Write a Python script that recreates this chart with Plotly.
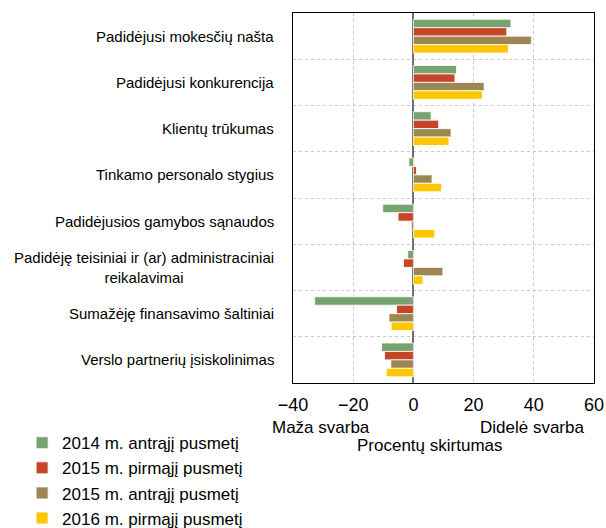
import plotly.graph_objects as go

categories = [
    "Padidėjusi mokesčių našta",
    "Padidėjusi konkurencija",
    "Klientų trūkumas",
    "Tinkamo personalo stygius",
    "Padidėjusios gamybos sąnaudos",
    "Padidėję teisiniai ir (ar) administraciniai<br>reikalavimai",
    "Sumažėję finansavimo šaltiniai",
    "Verslo partnerių įsiskolinimas",
]
series_names = [
    "2014 m. antrąjį pusmetį",
    "2015 m. pirmąjį pusmetį",
    "2015 m. antrąjį pusmetį",
    "2016 m. pirmąjį pusmetį",
]
s2014_h2 = [32.4, 14.3, 5.9, -1.5, -10.2, -1.9, -32.8, -10.6]
s2015_h1 = [31.0, 13.8, 8.4, 1.0, -5.1, -3.3, -5.6, -9.6]
s2015_h2 = [39.2, 23.5, 12.5, 6.2, -0.7, 9.8, -8.1, -7.5]
s2016_h1 = [31.6, 22.9, 11.8, 9.4, 7.1, 3.2, -7.4, -9.0]
series_values = [s2014_h2, s2015_h1, s2015_h2, s2016_h1]
colors = ["#76A36F", "#C64527", "#9C8752", "#FFC700"]
x_ticks = [-40, -20, 0, 20, 40, 60]

FONT = "Liberation Sans, Arial, sans-serif"

fig = go.Figure()
for name, vals, col in zip(series_names, series_values, colors):
    fig.add_trace(go.Bar(
        y=categories, x=vals, name=name, orientation="h",
        marker=dict(color=col, line=dict(color="rgba(255,255,255,0.8)", width=1)),
    ))

for cat in categories:
    fig.add_annotation(
        x=-0.055, xref="paper", y=cat, yref="y", text=cat,
        showarrow=False, xanchor="right", yanchor="middle", align="center",
        font=dict(family=FONT, size=15, color="black"),
    )

fig.add_annotation(x=-0.076, xref="paper", y=-0.119, yref="paper", text="Maža svarba",
                   showarrow=False, xanchor="left", yanchor="middle",
                   font=dict(family=FONT, size=17, color="black"))
fig.add_annotation(x=0.975, xref="paper", y=-0.119, yref="paper", text="Didelė svarba",
                   showarrow=False, xanchor="right", yanchor="middle",
                   font=dict(family=FONT, size=17, color="black"))
fig.add_annotation(x=0.455, xref="paper", y=-0.17, yref="paper", text="Procentų skirtumas",
                   showarrow=False, xanchor="center", yanchor="middle",
                   font=dict(family=FONT, size=17, color="black"))

fig.update_layout(
    width=606, height=528,
    margin=dict(l=293, r=12, t=13, b=145, autoexpand=False),
    paper_bgcolor="white", plot_bgcolor="white",
    barmode="group", bargap=0.27, bargroupgap=0,
    font=dict(family=FONT, size=17, color="black"),
    showlegend=True,
    legend=dict(
        x=-0.90, xanchor="left", y=-0.114, yanchor="top",
        font=dict(family=FONT, size=17, color="black"),
        bgcolor="rgba(0,0,0,0)", traceorder="normal",
        itemwidth=30,
    ),
    xaxis=dict(
        range=[-40, 60], tickvals=x_ticks, ticktext=[("−" + str(-v)) if v < 0 else str(v) for v in x_ticks],
        showgrid=True, gridcolor="#C8C8C8", griddash="3px,3px", gridwidth=1,
        zeroline=True, zerolinecolor="#707070", zerolinewidth=2,
        showline=True, linecolor="black", linewidth=1, mirror=True,
        ticks="", ticklabelstandoff=5, tickfont=dict(family=FONT, size=18, color="black"),
        fixedrange=True,
    ),
    yaxis=dict(
        autorange="reversed", type="category", tickson="boundaries",
        showticklabels=False, ticks="",
        showgrid=True, gridcolor="#C8C8C8", griddash="3px,3px", gridwidth=1,
        showline=True, linecolor="black", linewidth=1, mirror=True,
        fixedrange=True,
    ),
)

fig.write_html(
    "out.html",
    config={"displayModeBar": False, "staticPlot": True},
    post_script="document.body.style.margin='0';document.body.style.overflow='hidden';",
)
